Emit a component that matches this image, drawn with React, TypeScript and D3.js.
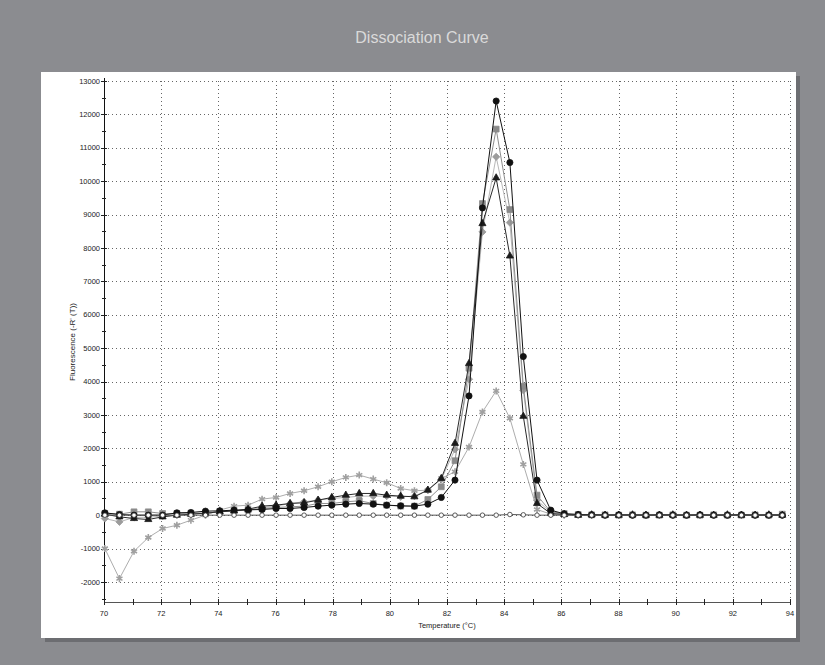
import React from 'react';
import * as d3 from 'd3';

const temps = [70.03, 70.54, 71.05, 71.55, 72.05, 72.55, 73.04, 73.55, 74.05, 74.55,
  75.04, 75.53, 76.02, 76.51, 77.0, 77.49, 77.97, 78.46, 78.93, 79.42,
  79.89, 80.38, 80.86, 81.33, 81.8, 82.28, 82.77, 83.24, 83.72, 84.2,
  84.67, 85.15, 85.63, 86.1, 86.59, 87.06, 87.53, 88.01, 88.49, 88.96,
  89.43, 89.9, 90.38, 90.85, 91.33, 91.81, 92.3, 92.78, 93.26, 93.73];

const blackCircles = [70, 20, 0, 0, 0, 70, 80, 120, 130, 150,
  160, 170, 200, 200, 230, 270, 300, 330, 350, 330,
  300, 280, 270, 330, 530, 1050, 3570, 9200, 12400, 10560,
  4750, 1050, 150, 40, 20, 10, 0, 10, 0, 0,
  10, 0, 0, 10, 0, 0, 10, 0, 0, 0];

const graySquares = [50, 30, 100, 100, 50, 50, 60, 60, 100, 130,
  150, 200, 230, 250, 270, 350, 350, 400, 430, 350,
  300, 270, 270, 470, 850, 1630, 4400, 9330, 11560, 9150,
  3860, 600, 100, 50, 20, 10, 10, 0, 10, 0,
  0, 10, 0, 0, 10, 0, 0, 10, 0, 30];

const grayDiamonds = [-100, -200, -70, -60, -30, 0, 30, 60, 100, 130,
  170, 230, 270, 350, 400, 450, 500, 530, 570, 570,
  570, 550, 570, 750, 1070, 1970, 4070, 8480, 10730, 8760,
  3740, 450, 80, 30, 10, 0, 10, 0, 0, 10,
  0, 0, 10, 0, 0, 0, 10, 0, 0, 0];

const blackTriangles = [30, -50, -100, -130, -50, 0, 30, 60, 100, 130,
  180, 270, 300, 350, 370, 450, 530, 600, 650, 650,
  600, 570, 550, 750, 1100, 2150, 4540, 8730, 10100, 7760,
  2960, 350, 50, 20, 0, 10, 0, 0, 10, 0,
  0, 10, 0, 0, 0, 10, 0, 0, 10, 0];

const grayStars = [-1000, -1900, -1080, -670, -400, -300, -150, 0, 150, 270,
  300, 480, 530, 650, 730, 850, 1000, 1130, 1200, 1080,
  970, 800, 730, 750, 1100, 1300, 2040, 3090, 3720, 2900,
  1520, 170, 30, 0, 0, 10, 0, 0, 0, 10,
  0, 0, 0, 10, 0, 0, 0, 0, 10, 0];

const openCircles = [0, 0, 0, 0, 0, 0, 0, 0, 0, 0,
  0, 0, 0, 0, 0, 0, 0, 0, 0, 0,
  0, 0, 0, 0, 0, 0, 0, 0, 0, 20,
  10, 0, 0, 0, 0, 0, 0, 0, 0, 0,
  0, 0, 0, 0, 0, 0, 0, 0, 0, 0];

const yTicks = d3.range(-2000, 13001, 1000);
const yMinor = d3.range(-2500, 13001, 500);
const xTicks = d3.range(70, 95, 2);
const xMinor = d3.range(70, 95, 1);

type Series = {
  name: string;
  values: number[];
  line: string;
  symbol: d3.SymbolType;
  size: number;
  fill: string;
  stroke: string;
  sw: number;
  rotate?: number;
};

const asterisk: d3.SymbolType = (d3 as any).symbolAsterisk || d3.symbolCross;

const series: Series[] = [
  { name: 'stars', values: grayStars, line: '#adadad', symbol: asterisk, size: 34, fill: 'none', stroke: '#a0a0a0', sw: 1.6 },
  { name: 'diamonds', values: grayDiamonds, line: '#b8b8b8', symbol: d3.symbolSquare, size: 26, fill: '#9c9c9c', stroke: '#9c9c9c', sw: 0.8, rotate: 45 },
  { name: 'squares', values: graySquares, line: '#8e8e8e', symbol: d3.symbolSquare, size: 34, fill: '#8a8a8a', stroke: '#8a8a8a', sw: 0.8 },
  { name: 'triangles', values: blackTriangles, line: '#2a2a2a', symbol: d3.symbolTriangle, size: 22, fill: '#1a1a1a', stroke: '#1a1a1a', sw: 0.8 },
  { name: 'circles', values: blackCircles, line: '#111', symbol: d3.symbolCircle, size: 30, fill: '#111', stroke: '#111', sw: 0.8 },
  { name: 'open', values: openCircles, line: '#555', symbol: d3.symbolCircle, size: 16, fill: '#fff', stroke: '#333', sw: 0.8 },
];

export default function App() {
  const width = 825;
  const height = 665;
  const left = 104, right = 790, top = 81, bottom = 602;

  const x = d3.scaleLinear().domain([70, 94]).range([left, right]);
  const y = d3.scaleLinear().domain([-2600, 13000]).range([bottom, top]);

  const lineGen = d3.line<number>()
    .x((d, i) => x(temps[i]))
    .y(d => y(d));

  const font = 'Liberation Sans, Arial, sans-serif';

  return (
    <svg width={width} height={height} style={{ position: 'absolute', left: 0, top: 0 }}>
      <rect x={0} y={0} width={width} height={height} fill="#8b8c90" />
      <text x={422} y={43} textAnchor="middle" fontFamily={font} fontSize={16} fill="#dadada">
        Dissociation Curve
      </text>
      <rect x={45} y={76} width={755} height={566} fill="#6c6d71" />
      <rect x={41} y={72} width={755} height={566} fill="#fff" />

      {/* grid */}
      <g stroke="#666" strokeWidth={1} strokeDasharray="1,3">
        {yTicks.map(t => (
          <line key={'gy' + t} x1={left} x2={right} y1={Math.round(y(t)) + 0.5} y2={Math.round(y(t)) + 0.5} />
        ))}
        {xTicks.filter(t => t > 70).map(t => (
          <line key={'gx' + t} x1={Math.round(x(t)) + 0.5} x2={Math.round(x(t)) + 0.5} y1={top} y2={bottom} />
        ))}
      </g>

      {/* axes */}
      <line x1={left + 0.5} x2={left + 0.5} y1={78} y2={bottom} stroke="#111" />
      <line x1={left} x2={right} y1={bottom + 0.5} y2={bottom + 0.5} stroke="#555" />
      <g stroke="#222">
        {yMinor.map(t => {
          const major = t % 1000 === 0;
          return <line key={'ty' + t} x1={major ? left - 3 : left - 2} x2={major ? left + 3 : left + 2}
            y1={Math.round(y(t)) + 0.5} y2={Math.round(y(t)) + 0.5} />;
        })}
        {xMinor.map(t => (
          <line key={'tx' + t} x1={Math.round(x(t)) + 0.5} x2={Math.round(x(t)) + 0.5}
            y1={bottom - 3} y2={bottom + 3} />
        ))}
      </g>
      <g fontFamily={font} fontSize={7.5} fill="#222">
        {yTicks.map(t => (
          <text key={'ly' + t} x={left - 4} y={y(t) + 2.7} textAnchor="end">{t}</text>
        ))}
        {xTicks.map(t => (
          <text key={'lx' + t} x={x(t)} y={bottom + 14} textAnchor="middle">{t}</text>
        ))}
      </g>
      <text transform={`translate(75,342) rotate(-90)`} textAnchor="middle" fontFamily={font} fontSize={8} fill="#222">
        Fluorescence (-R' (T))
      </text>
      <text x={447} y={628} textAnchor="middle" fontFamily={font} fontSize={7.5} fill="#222">
        Temperature (°C)
      </text>

      {/* curves */}
      {series.map(s => (
        <g key={s.name}>
          <path d={lineGen(s.values) || ''} fill="none" stroke={s.line} strokeWidth={1} />
          {s.values.map((v, i) => (
            <path key={i}
              d={d3.symbol().type(s.symbol).size(s.size)() || ''}
              transform={`translate(${x(temps[i])},${y(v)})${s.rotate ? ` rotate(${s.rotate})` : ''}`}
              fill={s.fill} stroke={s.stroke} strokeWidth={s.sw} />
          ))}
        </g>
      ))}
    </svg>
  );
}
